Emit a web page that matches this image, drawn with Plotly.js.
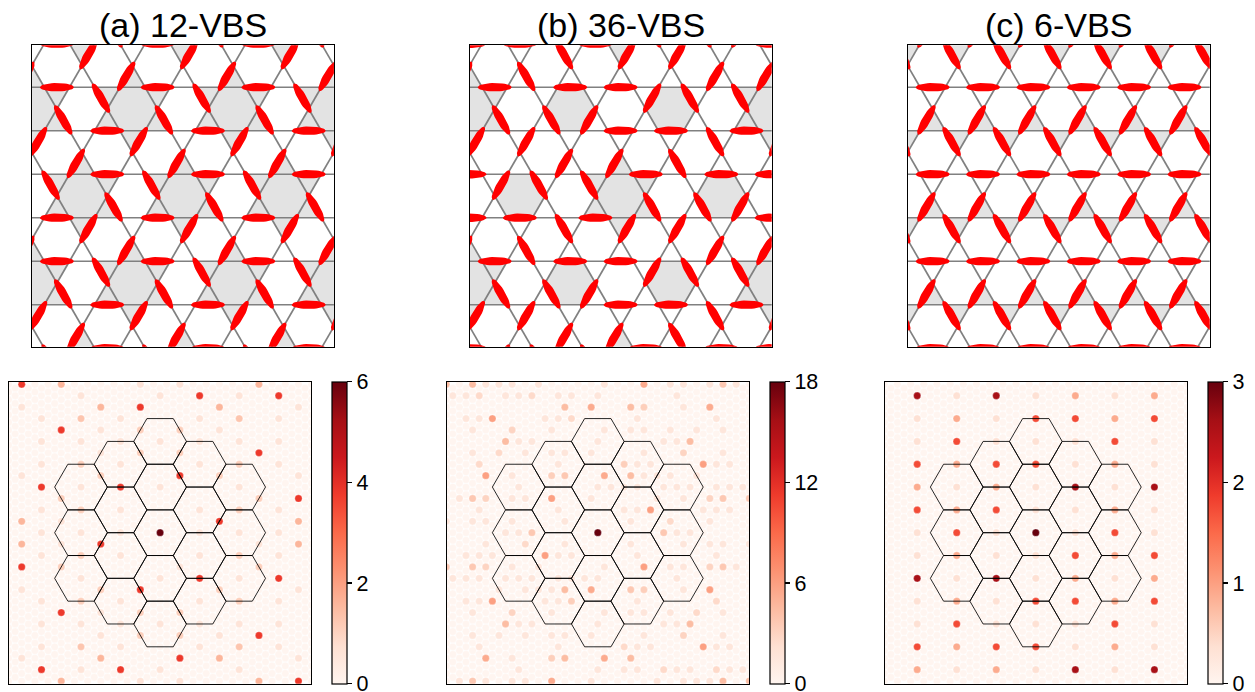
<!DOCTYPE html>
<html>
<head>
<meta charset="utf-8">
<script src="https://cdn.plot.ly/plotly-3.0.1.min.js"></script>
<style>html,body{margin:0;padding:0;background:#fff;}</style>
</head>
<body>
<div id="chart" style="width:1255px;height:692px;"></div>
<script>
// ---------- lattice panels: rows are [m, [x positions]] ----------
const titles = ['(a) 12-VBS', '(b) 36-VBS', '(c) 6-VBS'];

const aDimers = [
  [15,[3.25,7.25,11.25]],[14,[1,5,9]],[13,[2.25,6.25,10.25]],[11,[-0.25,3.75,7.75,11.75]],
  [10,[1,5,9]],[9,[2.75,6.75,10.75]],[7,[1.25,5.25,9.25]],[6,[3,7,11]],
  [5,[0.25,4.25,8.25,12.25]],[3,[1.75,5.75,9.75]],[2,[3,7,11]],[1,[0.75,4.75,8.75]],
  [-1,[3.25,7.25,11.25]],[-2,[1,5,9]],[-3,[2.25,6.25,10.25]],[-5,[-0.25,3.75,7.75,11.75]],
  [-6,[1,5,9]],[-7,[2.75,6.75,10.75]],[-9,[1.25,5.25,9.25]],[-10,[3,7,11]],
  [-11,[0.25,4.25,8.25,12.25]],[-13,[1.75,5.75,9.75]],[-14,[3,7,11]],[-15,[0.75,4.75,8.75]]
];
const bDimers = [
  [15,[7.25,9.25,10.75]],[14,[0,2,5,12]],[13,[3.75,6.25,8.25]],[11,[-0.25,2.25,9.75,11.75]],
  [10,[1,4,6]],[9,[7.25,8.75,10.75]],[7,[1.25,3.25,4.75]],[6,[6,8,11]],
  [5,[0.25,2.25,9.75,12.25]],[3,[3.75,5.75,8.25]],[2,[0,7,10,12]],[1,[1.25,2.75,4.75]],
  [-1,[7.25,9.25,10.75]],[-2,[0,2,5,12]],[-3,[3.75,6.25,8.25]],[-5,[-0.25,2.25,9.75,11.75]],
  [-6,[1,4,6]],[-7,[7.25,8.75,10.75]],[-9,[1.25,3.25,4.75]],[-10,[6,8,11]],
  [-11,[0.25,2.25,9.75,12.25]],[-13,[3.75,5.75,8.25]],[-14,[0,7,10,12]],[-15,[1.25,2.75,4.75]]
];
const cDimers = [
  [15,[0.75,2.75,4.75,6.75,8.75,10.75]],[13,[-0.25,1.75,3.75,5.75,7.75,9.75,11.75]],
  [10,[1,3,5,7,9,11]],[7,[0.75,2.75,4.75,6.75,8.75,10.75]],
  [5,[-0.25,1.75,3.75,5.75,7.75,9.75,11.75]],[2,[1,3,5,7,9,11]],
  [-1,[0.75,2.75,4.75,6.75,8.75,10.75]],[-3,[-0.25,1.75,3.75,5.75,7.75,9.75,11.75]],
  [-6,[1,3,5,7,9,11]],[-9,[0.75,2.75,4.75,6.75,8.75,10.75]],
  [-11,[-0.25,1.75,3.75,5.75,7.75,9.75,11.75]],[-14,[1,3,5,7,9,11]]
];
const aStars = [[0,8],[4,8],[8,8],[12,8],[2,0],[6,0],[10,0],[0,-8],[4,-8],[8,-8],[12,-8],[2,16],[6,16],[10,16],[2,-16],[6,-16],[10,-16]];
const bStars = [[0,8],[12,8],[6,0],[0,-8],[12,-8],[6,16],[6,-16]];
const bHexes = [[4,8],[8,8],[2,0],[10,0],[4,-8],[8,-8]];
const cUpTriangles = [[6,[1,3,5,7,9,11]],[-2,[1,3,5,7,9,11]],[-10,[1,3,5,7,9,11]]];
const cDownTriangles = [[14,[0,2,4,6,8,10,12]],[6,[0,2,4,6,8,10,12]],[-2,[0,2,4,6,8,10,12]],[-10,[0,2,4,6,8,10,12]]];

// ---------- structure-factor panels: points are [i, j] on the reciprocal grid ----------
const aTop = [[0,0]];
const aRed = [[-7,13],[2,12],[6,12],[-1,11],[-5,9],[5,7],[1,5],[-6,4],[-2,4],[7,3],[3,1],[-3,-1],[-7,-3],[2,-4],[6,-4],[-1,-5],[-5,-7],[5,-9],[1,-11],[-6,-12],[-2,-12],[7,-13]];
const aMid = [[-5,13],[5,13],[-3,11],[3,11],[-7,1],[7,1],[-7,-1],[7,-1],[-3,-11],[3,-11],[-5,-13],[5,-13]];
const aLow2 = [[-4,10],[4,10],[-4,-10],[4,-10]];
const aLow1 = [[-1,9],[1,9],[-1,7],[1,7],[-4,6],[4,6],[-3,5],[3,5],[-5,3],[5,3],[-4,2],[4,2],[-4,-2],[4,-2],[-5,-3],[5,-3],[-3,-5],[3,-5],[-4,-6],[4,-6],[-1,-7],[1,-7],[-1,-9],[1,-9]];
const aPale = [[-1,13],[1,13],[-4,12],[0,12],[4,12],[-7,11],[7,11],[-6,10],[-2,10],[2,10],[6,10],[-3,9],[3,9],[-6,8],[-4,8],[-2,8],[0,8],[2,8],[4,8],[6,8],[-3,7],[-6,6],[-2,6],[2,6],[6,6],[-7,5],[7,5],[-4,4],[0,4],[4,4],[-6,2],[-2,2],[2,2],[6,2],[-5,1],[-6,0],[-4,0],[-2,0],[2,0],[4,0],[6,0],[-5,-1],[5,-1],[-6,-2],[-2,-2],[2,-2],[6,-2],[1,-3],[-4,-4],[0,-4],[4,-4],[-7,-5],[7,-5],[-6,-6],[-2,-6],[2,-6],[6,-6],[-3,-7],[-6,-8],[-4,-8],[-2,-8],[0,-8],[2,-8],[4,-8],[6,-8],[-3,-9],[3,-9],[-6,-10],[-2,-10],[2,-10],[6,-10],[-7,-11],[7,-11],[-4,-12],[0,-12],[4,-12],[-1,-13],[1,-13]];
const aLevels = [[aPale,0.6],[aLow1,1.1],[aLow2,1.3],[aMid,1.6],[aRed,3.8],[aTop,6]];
const aScale = 3;

const bTop = [[0,0]];
const b60 = [[8,6],[16,18],[-7,9],[-17,15],[-16,30],[-8,-6],[-16,-18],[7,-9],[17,-15],[16,-30]];
const b54 = [[1,15],[17,33],[7,39],[-1,33],[-1,-15],[-17,-33],[-7,-39],[1,-33]];
const b44 = [[5,15],[14,24],[5,33],[-14,24],[-5,33],[-19,39],[-23,39],[-5,-15],[-14,-24],[-5,-33],[14,-24],[5,-33],[19,-39],[23,-39]];
const b37 = [[10,0],[19,9],[23,9],[19,39],[-10,0],[-19,9],[-5,15],[-19,-9],[-23,-9],[-19,-39],[19,-9],[5,-15]];
const b33 = [[4,18],[7,33],[-7,15],[-4,-18],[-7,-33],[7,-15]];
const b30 = [[17,9],[13,21],[-17,9],[-13,27],[-17,-9],[-13,-21],[17,-9],[13,-27]];
const b26 = [[11,3],[-18,18],[-15,21],[-4,30],[-10,36],[-18,36],[-11,-3],[18,-18],[15,-21],[4,-30],[10,-36],[18,-36]];
const b16 = [
  [12,0],[14,0],[-12,0],[-14,0],
  [5,3],[17,3],[-5,3],[-13,3],[-17,3],[-19,3],[-23,3],
  [4,6],[6,6],[16,6],[18,6],[20,6],[-6,6],[-18,6],
  [9,9],[13,9],[-1,9],[-11,9],[-13,9],[-21,9],
  [0,12],[2,12],[4,12],[6,12],[10,12],[12,12],[14,12],[18,12],[20,12],[22,12],[-12,12],
  [7,15],[9,15],[11,15],[15,15],[-13,15],
  [6,18],[8,18],[18,18],[20,18],[-6,18],
  [7,21],[19,21],[-1,21],[-5,21],[-7,21],[-11,21],[-19,21],
  [0,24],[10,24],[12,24],[-10,24],[-12,24],
  [1,27],[5,27],[7,27],[11,27],[15,27],[19,27],[-7,27],[-19,27],
  [6,30],[18,30],[-6,30],[-8,30],[-18,30],[-20,30],
  [13,33],
  [0,36],[12,36],[-4,36],[-6,36],[-12,36],[-14,36],[-20,36],[-22,36],
  [1,39],[11,39],[13,39],[17,39],[21,39],[-9,39],[-13,39],[-15,39],[-17,39],
  [-5,-3],[-17,-3],[5,-3],[13,-3],[17,-3],[19,-3],[23,-3],
  [-4,-6],[-6,-6],[-16,-6],[-18,-6],[-20,-6],[6,-6],[18,-6],
  [-9,-9],[-13,-9],[1,-9],[11,-9],[13,-9],[21,-9],
  [-2,-12],[-4,-12],[-6,-12],[-10,-12],[-12,-12],[-14,-12],[-18,-12],[-20,-12],[-22,-12],[0,-12],[12,-12],
  [-7,-15],[-9,-15],[-11,-15],[-15,-15],[13,-15],
  [-6,-18],[-8,-18],[-18,-18],[-20,-18],[6,-18],
  [-7,-21],[-19,-21],[1,-21],[5,-21],[7,-21],[11,-21],[19,-21],
  [0,-24],[-10,-24],[-12,-24],[10,-24],[12,-24],
  [-1,-27],[-5,-27],[-7,-27],[-11,-27],[-15,-27],[-19,-27],[7,-27],[19,-27],
  [-6,-30],[-18,-30],[6,-30],[8,-30],[18,-30],[20,-30],
  [-13,-33],
  [0,-36],[-12,-36],[4,-36],[6,-36],[12,-36],[14,-36],[20,-36],[22,-36],
  [-1,-39],[-11,-39],[-13,-39],[-17,-39],[-21,-39],[9,-39],[13,-39],[15,-39],[17,-39]
];
const bLevels = [[b16,1.6],[b26,2.6],[b30,3],[b33,3.3],[b37,3.7],[b44,4.4],[b54,5.4],[b60,6],[bTop,18]];
const bScale = 1;

const cTop = [[0,0]];
const cDark = [[-6,12],[-2,12],[2,4],[6,4],[-6,-4],[-2,-4],[2,-12],[6,-12]];
const cRed = [[0,10],[2,10],[6,10],[-4,8],[4,8],[-6,6],[-2,6],[0,6],[-6,2],[-2,2],[-4,0],[4,0],[2,-2],[6,-2],[0,-6],[2,-6],[6,-6],[-4,-8],[4,-8],[-6,-10],[-2,-10],[0,-10]];
const cMid = [[2,12],[6,12],[-4,10],[4,10],[-4,6],[4,6],[-6,4],[-2,4],[-4,2],[4,2],[-4,-2],[4,-2],[2,-4],[6,-4],[-4,-6],[4,-6],[-4,-10],[4,-10],[-6,-12],[-2,-12]];
const cPale = [[-4,12],[0,12],[4,12],[-6,10],[-2,10],[-6,8],[-2,8],[0,8],[2,8],[6,8],[2,6],[6,6],[-4,4],[0,4],[4,4],[0,2],[2,2],[6,2],[-6,0],[-2,0],[2,0],[6,0],[-6,-2],[-2,-2],[0,-2],[-4,-4],[0,-4],[4,-4],[-6,-6],[-2,-6],[-6,-8],[-2,-8],[0,-8],[2,-8],[6,-8],[2,-10],[6,-10],[-4,-12],[0,-12],[4,-12]];
const cLevels = [[cPale,0.35],[cMid,0.9],[cRed,1.75],[cDark,2.6],[cTop,3]];
const cScale = 3;

const hexCenters = [[0,0],[0,12],[0,24],[0,-12],[0,-24],[-6,6],[-6,18],[-6,-6],[-6,-18],[6,6],[6,18],[6,-6],[6,-18],[-12,0],[-12,12],[-12,-12],[12,0],[12,12],[12,-12]];
const cbTicks = [[0,2,4,6],[0,6,12,18],[0,1,2,3]];
const cbMax = [6,18,3];

const reds = [[0,'#fff5f0'],[0.125,'#fee0d2'],[0.25,'#fcbba1'],[0.375,'#fc9272'],[0.5,'#fb6a4a'],[0.625,'#ef3b2c'],[0.75,'#cb181d'],[0.875,'#a50f15'],[1,'#67000d']];

// ---------- layout geometry (pixels) ----------
const W = 1255, H = 692, S3 = Math.sqrt(3);
const topLeft = [31.7, 469.5, 907.5], topW = 302.2, topY = [45.3, 346.7];
const botLeft = [9, 446.7, 884.7], botW = 302.2, botY = [381.7, 683.7];
const cbLeft = [332.3, 770, 1208];
const titleX = [183, 620.5, 1058];

const Y = m => 6 + m * S3 / 4;

function dimerTrace(rows, ax) {
  const xs = [], ys = [];
  rows.forEach(([m, list]) => list.forEach(x => {
    let ang = 0;
    if (m % 2 !== 0) {
      const mid = 4 * Math.round(m / 4);
      const p = Math.abs(mid / 4) % 2 === 0 ? 1 : 0;
      const sx = Math.round((x - p) / 2) * 2 + p;
      ang = ((x - sx) * (m - mid) > 0 ? 1 : -1) * Math.PI / 3;
    }
    for (let k = 0; k <= 40; k++) {
      const t = 2 * Math.PI * k / 40;
      const u = 0.675 * Math.cos(t), v = 0.17 * Math.sin(t);
      xs.push(x + u * Math.cos(ang) - v * Math.sin(ang));
      ys.push(Y(m) + u * Math.sin(ang) + v * Math.cos(ang));
    }
    xs.push(null); ys.push(null);
  }));
  return {x: xs, y: ys, xaxis: 'x' + ax, yaxis: 'y' + ax, mode: 'lines', fill: 'toself', fillcolor: '#ff0000',
          line: {width: 0, color: '#ff0000'}, hoverinfo: 'skip', showlegend: false};
}

function latticeTrace(ax) {
  const xs = [], ys = [];
  for (let m = -14; m <= 14; m += 4) { xs.push(-1, 13, null); ys.push(Y(m), Y(m), null); }
  for (let k = -5; k <= 5; k++) {
    const p = Math.abs(k) % 2 === 0 ? 1 : 0;
    for (let sx = p - 4; sx <= 16; sx += 2) {
      xs.push(sx - 0.5, sx + 0.5, null); ys.push(Y(4 * k - 2), Y(4 * k + 2), null);
      xs.push(sx - 0.5, sx + 0.5, null); ys.push(Y(4 * k + 2), Y(4 * k - 2), null);
    }
  }
  return {x: xs, y: ys, xaxis: 'x' + ax, yaxis: 'y' + ax, mode: 'lines', line: {color: '#808080', width: 1.7},
          hoverinfo: 'skip', showlegend: false};
}

const STAR = [[0,S3],[0.5,S3/2],[1.5,S3/2],[1,0],[1.5,-S3/2],[0.5,-S3/2],[0,-S3],[-0.5,-S3/2],[-1.5,-S3/2],[-1,0],[-1.5,S3/2],[-0.5,S3/2]];
const HEX = [[1,0],[0.5,-S3/2],[-0.5,-S3/2],[-1,0],[-0.5,S3/2],[0.5,S3/2]];
const UP = [[-0.5,0],[0.5,0],[0,S3/2]];
const DOWN = [[-0.5,0],[0.5,0],[0,-S3/2]];

function greyTrace(polys, ax) {
  const xs = [], ys = [];
  polys.forEach(([shape, cx, m]) => {
    shape.concat([shape[0]]).forEach(([u, v]) => { xs.push(cx + u); ys.push(Y(m) + v); });
    xs.push(null); ys.push(null);
  });
  return {x: xs, y: ys, xaxis: 'x' + ax, yaxis: 'y' + ax, mode: 'lines', fill: 'toself', fillcolor: '#e3e3e3',
          line: {width: 0, color: '#e3e3e3'}, hoverinfo: 'skip', showlegend: false};
}

const greys = [
  aStars.map(([x, m]) => [STAR, x, m]),
  bStars.map(([x, m]) => [STAR, x, m]).concat(bHexes.map(([x, m]) => [HEX, x, m])),
  [].concat(
    ...cUpTriangles.map(([m, l]) => l.map(x => [UP, x, m])),
    ...cDownTriangles.map(([m, l]) => l.map(x => [DOWN, x, m])))
];
const dimers = [aDimers, bDimers, cDimers];

const XHALF = 22.93, YHALF = 39.7;

function dotTrace(levels, scale, idx, ax) {
  const val = {};
  levels.forEach(([pts, v]) => pts.forEach(([a, b]) => { val[(a * scale) + ',' + (b * scale)] = v; }));
  const xs = [], ys = [], cs = [];
  for (let j = -39; j <= 39; j++) {
    for (let i = -23; i <= 23; i++) {
      if ((i + j) % 2 !== 0) continue;
      if (val[i + ',' + j] === undefined) { xs.push(i); ys.push(j); cs.push(0); }
    }
  }
  levels.forEach(([pts, v]) => pts.forEach(([a, b]) => { xs.push(a * scale); ys.push(b * scale); cs.push(v); }));
  return {x: xs, y: ys, xaxis: 'x' + ax, yaxis: 'y' + ax, mode: 'markers', hoverinfo: 'skip', showlegend: false,
    marker: {size: 7.3, color: cs, cmin: 0, cmax: cbMax[idx], colorscale: reds, showscale: true, line: {width: 0.3, color: '#fff'},
      colorbar: {x: cbLeft[idx] / W, xanchor: 'left', xpad: 0, y: 1 - botY[1] / H, yanchor: 'bottom', ypad: 0,
        len: (botY[1] - botY[0]) / H, lenmode: 'fraction', thickness: 15.4, thicknessmode: 'pixels',
        outlinewidth: 1.2, outlinecolor: '#000', tickmode: 'array', tickvals: cbTicks[idx], ticktext: cbTicks[idx].map(String),
        ticks: 'outside', ticklen: 5, tickwidth: 1.2, tickcolor: '#000', ticklabeloverflow: 'allow',
        tickfont: {family: 'Liberation Sans, Arial, sans-serif', size: 21.5, color: '#000'}}}};
}

function hexTrace(ax) {
  const xs = [], ys = [];
  const V = [[4,0],[2,6],[-2,6],[-4,0],[-2,-6],[2,-6],[4,0]];
  hexCenters.forEach(([cx, cy]) => {
    V.forEach(([u, v]) => { xs.push(cx + u); ys.push(cy + v); });
    xs.push(null); ys.push(null);
  });
  return {x: xs, y: ys, xaxis: 'x' + ax, yaxis: 'y' + ax, mode: 'lines', line: {color: '#000', width: 0.85},
          hoverinfo: 'skip', showlegend: false};
}

const data = [];
const layout = {width: W, height: H, margin: {l: 0, r: 0, t: 0, b: 0}, paper_bgcolor: '#fff', plot_bgcolor: '#fff',
  showlegend: false, font: {family: 'Liberation Sans, Arial, sans-serif', color: '#000'}, annotations: []};

function axis(dom, range, anchor) {
  return {domain: dom, range: range, anchor: anchor, showgrid: false, zeroline: false, showticklabels: false,
          ticks: '', showline: true, mirror: true, linecolor: '#000', linewidth: 1, fixedrange: true};
}

const levelsAll = [aLevels, bLevels, cLevels], scalesAll = [aScale, bScale, cScale];
for (let p = 0; p < 3; p++) {
  const a1 = p * 2 + 1, a2 = p * 2 + 2;
  const n1 = a1 === 1 ? '' : a1, n2 = a2;
  data.push(greyTrace(greys[p], n1));
  data.push(latticeTrace(n1));
  data.push(dimerTrace(dimers[p], n1));
  data.push(dotTrace(levelsAll[p], scalesAll[p], p, n2));
  data.push(hexTrace(n2));
  layout['xaxis' + n1] = axis([topLeft[p] / W, (topLeft[p] + topW) / W], [0, 12], 'y' + n1);
  layout['yaxis' + n1] = axis([1 - topY[1] / H, 1 - topY[0] / H], [0, 12], 'x' + n1);
  layout['xaxis' + n2] = axis([botLeft[p] / W, (botLeft[p] + botW) / W], [-XHALF, XHALF], 'y' + n2);
  layout['yaxis' + n2] = axis([1 - botY[1] / H, 1 - botY[0] / H], [-YHALF, YHALF], 'x' + n2);
  layout.annotations.push({text: titles[p], xref: 'paper', yref: 'paper', x: titleX[p] / W, y: 1 - 25 / H,
    xanchor: 'center', yanchor: 'middle', showarrow: false,
    font: {family: 'Liberation Sans, Arial, sans-serif', size: 34, color: '#000'}});
}
Plotly.newPlot('chart', data, layout, {displayModeBar: false, staticPlot: true});
</script>
</body>
</html>
